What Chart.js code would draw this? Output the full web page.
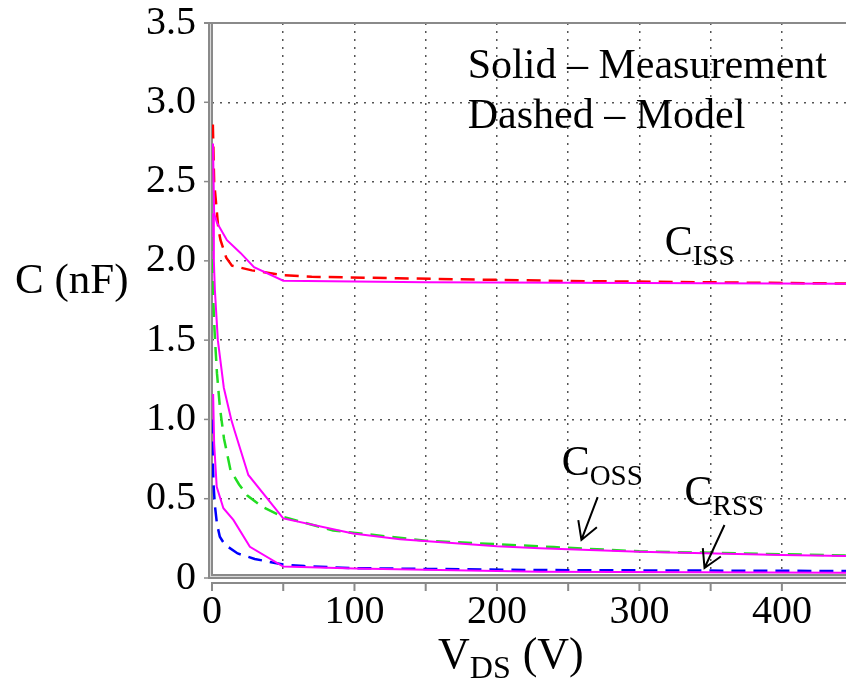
<!DOCTYPE html>
<html>
<head>
  <meta charset="UTF-8">
  <title>C - V</title>
  <script src="https://cdn.jsdelivr.net/npm/chart.js@4.4.0/dist/chart.umd.min.js"></script>
  <style>
    body { margin: 0; background: #fff; }
    canvas { display: block; }
  </style>
</head>
<body>
  <canvas id="cv" width="846" height="682"></canvas>
  <script>
    // Ciss: measurement (solid) and model (dashed)
    const vIssMeas = [0.7, 1.5, 3.5, 10.5, 20, 29.5, 50, 150, 300, 445];
    const cIssMeas = [2.74, 2.30, 2.24, 2.13, 2.05, 1.96, 1.875, 1.865, 1.86, 1.855];
    const vIssModel = [0.6, 1.5, 3.5, 4.5, 6, 10, 14, 28, 50, 70, 130, 250, 445];
    const cIssModel = [2.86, 2.5, 2.3, 2.2, 2.13, 2.02, 1.97, 1.94, 1.91, 1.9, 1.89, 1.873, 1.857];

    // Coss
    const vOssMeas = [0.8, 1.3, 2, 4.1, 8.3, 13.5, 15.8, 25.5, 50, 99, 132, 200, 230, 300, 400, 445];
    const cOssMeas = [2.3, 2.0, 1.82, 1.5, 1.2, 1.0, 0.93, 0.65, 0.376, 0.28, 0.245, 0.2, 0.187, 0.166, 0.145, 0.139];
    const vOssModel = [0.2, 0.5, 1.2, 2, 3.5, 5.5, 8.4, 13, 19, 24.8, 35, 50, 85, 150, 240, 300, 445];
    const cOssModel = [2.15, 1.9, 1.68, 1.52, 1.29, 1.08, 0.88, 0.68, 0.59, 0.52, 0.45, 0.385, 0.3, 0.235, 0.195, 0.168, 0.142];

    // Crss
    const vRssMeas = [0.8, 1.5, 3.3, 8, 15, 26.6, 50, 100, 230, 445];
    const cRssMeas = [1.16, 0.85, 0.575, 0.44, 0.366, 0.197, 0.072, 0.06, 0.04, 0.033];
    const vRssModel = [0.2, 0.5, 1, 2, 3.5, 5.5, 9, 18, 30, 50, 65, 100, 230, 445];
    const cRssModel = [1.0, 0.8, 0.6, 0.46, 0.34, 0.26, 0.21, 0.155, 0.12, 0.085, 0.075, 0.062, 0.05, 0.044];

    const xTicks = [0, 50, 100, 150, 200, 250, 300, 350, 400];
    const yTicks = [0, 0.5, 1.0, 1.5, 2.0, 2.5, 3.0, 3.5];

    const serif = '"Liberation Serif", "Times New Roman", serif';

    function pts(vs, cs) {
      return vs.map((v, i) => ({ x: v, y: cs[i] }));
    }

    function solid(data) {
      return { data: data, borderColor: '#ff00ff', borderWidth: 2, pointRadius: 0, showLine: true, tension: 0 };
    }
    function dashed(data, color) {
      return { data: data, borderColor: color, borderWidth: 2.5, borderDash: [14, 8], pointRadius: 0, showLine: true, tension: 0 };
    }

    // text with subscript, e.g. C + ISS
    function subText(ctx, main, sub, x, y, big, small) {
      ctx.font = big + 'px ' + serif;
      ctx.fillText(main, x, y);
      const w = ctx.measureText(main).width;
      ctx.font = small + 'px ' + serif;
      ctx.fillText(sub, x + w, y + 10);
      return x + w + ctx.measureText(sub).width;
    }

    function arrow(ctx, x0, y0, x1, y1) {
      const a = Math.atan2(y0 - y1, x0 - x1);
      ctx.beginPath();
      ctx.moveTo(x0, y0);
      ctx.lineTo(x1, y1);
      ctx.moveTo(x1 + 20 * Math.cos(a + 0.52), y1 + 20 * Math.sin(a + 0.52));
      ctx.lineTo(x1, y1);
      ctx.lineTo(x1 + 20 * Math.cos(a - 0.52), y1 + 20 * Math.sin(a - 0.52));
      ctx.stroke();
    }

    const frame = {
      id: 'frame',
      beforeDatasetsDraw(chart) {
        const { ctx, chartArea: a, scales: { x, y } } = chart;
        ctx.save();
        ctx.fillStyle = '#8a8a8a';
        ctx.fillRect(a.left - 4, a.top, 5, a.bottom - a.top + 1);
        ctx.fillRect(a.left - 4, a.bottom - 4, a.right - a.left + 4, 5);
        ctx.fillRect(a.left - 8, a.top - 1, a.right - a.left + 8, 2);
        yTicks.forEach(v => ctx.fillRect(a.left - 8, y.getPixelForValue(v) - 0.75, 4, 1.5));
        // separate x axis line with ticks
        ctx.fillRect(a.left - 1, a.bottom + 4, a.right - a.left + 1, 2);
        xTicks.forEach(v => ctx.fillRect(x.getPixelForValue(v) - 1, a.bottom + 4, 2, 9));
        ctx.fillStyle = '#d8d8d8';
        ctx.fillRect(a.left - 2, a.top + 1, 1, a.bottom - a.top - 3);
        ctx.fillRect(a.left - 2, a.bottom - 2, a.right - a.left + 2, 1);
        ctx.restore();
      },
      afterDraw(chart) {
        const { ctx, scales: { x, y } } = chart;
        ctx.save();
        ctx.fillStyle = '#000';
        ctx.strokeStyle = '#000';
        ctx.lineWidth = 2;
        ctx.textBaseline = 'alphabetic';
        ctx.font = '42px ' + serif;
        ctx.fillText('Solid \u2013 Measurement', x.getPixelForValue(179.5), y.getPixelForValue(3.153));
        ctx.fillText('Dashed \u2013 Model', x.getPixelForValue(179.5), y.getPixelForValue(2.837));
        subText(ctx, 'C', 'ISS', x.getPixelForValue(317.7), y.getPixelForValue(2.037), 42, 29);
        subText(ctx, 'C', 'OSS', x.getPixelForValue(245.4), y.getPixelForValue(0.65), 42, 29);
        subText(ctx, 'C', 'RSS', x.getPixelForValue(331.7), y.getPixelForValue(0.46), 42, 29);
        arrow(ctx, x.getPixelForValue(270.7), y.getPixelForValue(0.51), x.getPixelForValue(259.3), y.getPixelForValue(0.24));
        arrow(ctx, x.getPixelForValue(359.7), y.getPixelForValue(0.334), x.getPixelForValue(345.7), y.getPixelForValue(0.063));
        // axis titles
        ctx.font = '43px ' + serif;
        ctx.fillText('C (nF)', 15, 293);
        const end = subText(ctx, 'V', 'DS', 438, 668, 44, 32);
        ctx.font = '44px ' + serif;
        ctx.fillText('(V)', end + 12, 668);
        ctx.restore();
      }
    };

    new Chart(document.getElementById('cv'), {
      type: 'scatter',
      data: {
        datasets: [
          solid(pts(vIssMeas, cIssMeas)),
          solid(pts(vOssMeas, cOssMeas)),
          solid(pts(vRssMeas, cRssMeas)),
          dashed(pts(vIssModel, cIssModel), '#ff0000'),
          dashed(pts(vOssModel, cOssModel), '#22dd22'),
          dashed(pts(vRssModel, cRssModel), '#0000ff')
        ]
      },
      options: {
        responsive: false,
        animation: false,
        devicePixelRatio: 1,
        layout: { padding: { top: 23, right: 0, left: 0, bottom: 0 } },
        plugins: { legend: { display: false }, tooltip: { enabled: false } },
        scales: {
          x: {
            type: 'linear',
            min: 0,
            max: 445,
            afterFit(s) { s.height = 104; s.paddingLeft = 0; s.paddingRight = 0; },
            border: { display: false, dash: [2, 6] },
            grid: {
              drawTicks: false,
              lineWidth: 1.5,
              color: c => (c.tick && c.tick.value === 0) ? 'rgba(0,0,0,0)' : '#555'
            },
            ticks: {
              stepSize: 50,
              includeBounds: false,
              maxRotation: 0,
              autoSkip: false,
              padding: 14,
              color: '#000',
              font: { family: serif, size: 40, lineHeight: 1 },
              callback: v => (v % 100 === 0 ? String(v) : '')
            }
          },
          y: {
            min: 0,
            max: 3.5,
            afterFit(s) { s.width = 212; s.paddingTop = 0; s.paddingBottom = 0; },
            border: { display: false, dash: [2, 6] },
            grid: {
              drawTicks: false,
              lineWidth: 1.5,
              color: c => (c.tick && (c.tick.value === 0 || c.tick.value === 3.5)) ? 'rgba(0,0,0,0)' : '#555'
            },
            ticks: {
              stepSize: 0.5,
              padding: 16,
              color: '#000',
              font: { family: serif, size: 40, lineHeight: 1 },
              callback: v => (v === 0 ? '0' : v.toFixed(1))
            }
          }
        }
      },
      plugins: [frame]
    });
  </script>
</body>
</html>
